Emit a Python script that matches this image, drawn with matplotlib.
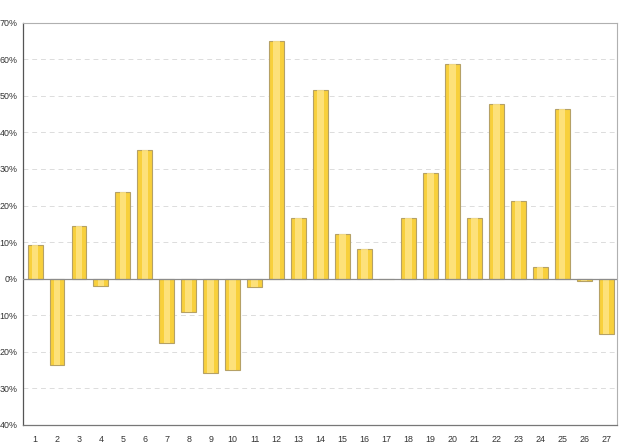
import matplotlib
matplotlib.use("Agg")
import matplotlib.pyplot as plt
from matplotlib.ticker import FixedLocator

categories = [str(i) for i in range(1, 28)]
values = [9.3, -23.6, 14.5, -1.9, 23.6, 35.3, -17.7, -9.1, -25.8, -24.9,
          -2.2, 65.1, 16.5, 51.5, 12.1, 8.2, 0.0, 16.7, 29.0, 58.8,
          16.7, 47.8, 21.3, 3.2, 46.3, -0.7, -15.1]
yticks = [-40, -30, -20, -10, 0, 10, 20, 30, 40, 50, 60, 70]
# the reference shows the tick labels without their (cropped) minus signs
ytick_labels = [f"{abs(t)}%" for t in yticks]

plt.rcParams['font.family'] = ['Liberation Sans', 'DejaVu Sans']

fig = plt.figure(figsize=(6.21, 4.44), dpi=100)
ax = fig.add_axes([0.037, 0.0428, 0.9566, 0.9063])

x = list(range(1, len(values) + 1))
ax.bar(x, values, width=0.68, color='#F8D03C', edgecolor='#B5A166',
       linewidth=0.8, zorder=3)
ax.bar(x, values, width=0.3, color='#FFE68A', linewidth=0, alpha=0.8,
       zorder=4)

ax.set_xlim(0.45, 27.5)
ax.set_ylim(-40, 70)
ax.yaxis.set_major_locator(FixedLocator(yticks))
ax.set_yticklabels(ytick_labels)
ax.set_xticks(x)
ax.set_xticklabels(categories)

for t in yticks:
    if t == 0:
        ax.axhline(0, color='#8c8c8c', linewidth=0.9, zorder=5)
    elif t not in (-40, 70):
        ax.axhline(t, color='#dcdcdc', linewidth=0.7, linestyle=(0, (5, 4)),
                   zorder=1)

ax.tick_params(axis='both', length=0, labelsize=6.4, colors='#333333')
ax.tick_params(axis='y', pad=4)
ax.tick_params(axis='x', pad=7)

for side in ['top', 'right']:
    ax.spines[side].set_color('#b0b0b0')
    ax.spines[side].set_linewidth(0.8)
ax.spines['left'].set_color('#555555')
ax.spines['bottom'].set_color('#777777')
ax.spines['left'].set_linewidth(0.9)
ax.spines['bottom'].set_linewidth(0.9)

fig.savefig('out.png', dpi=100)
